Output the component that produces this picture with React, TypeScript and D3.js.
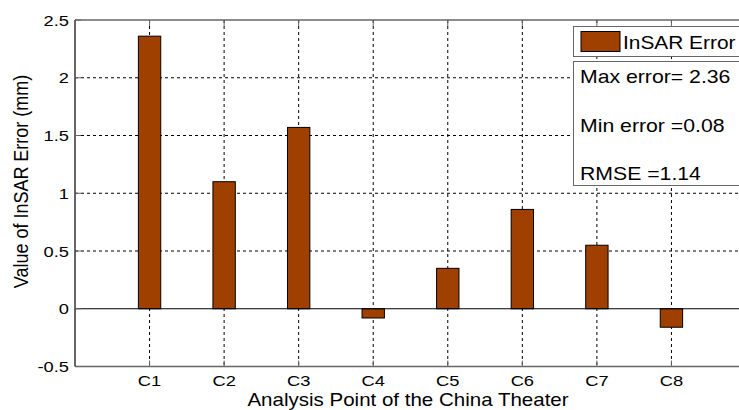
import React from "react";
import * as d3 from "d3";

const categories = ["C1", "C2", "C3", "C4", "C5", "C6", "C7", "C8"];
const values = [2.36, 1.1, 1.57, -0.08, 0.35, 0.86, 0.55, -0.16];
const yTicks = [-0.5, 0, 0.5, 1, 1.5, 2, 2.5];
const statsLines = ["Max error= 2.36", "Min error =0.08", "RMSE =1.14"];
const legendLabel = "InSAR Error";

const W = 739, H = 410;
const left = 75, top = 20, bottom = 366.5, right = 746;
const barColor = "#A04000";
const font = "Arial, 'Liberation Sans', sans-serif";

function SText({ x, y, sx = 1.17, size, anchor = "start", children }: any) {
  return (
    <text transform={`translate(${x},${y}) scale(${sx},1)`} textAnchor={anchor} fontSize={size} fill="#000">
      {children}
    </text>
  );
}

export default function App() {
  const x = d3.scaleLinear().domain([0, categories.length + 1]).range([left, right]);
  const y = d3.scaleLinear().domain([-0.5, 2.5]).range([bottom, top]);
  const bw = (x(1) - x(0)) * 0.3;
  const dash = "3,3";
  return (
    <svg width={W} height={H} style={{ position: "absolute", left: 0, top: 0 }} fontFamily={font}>
      <rect width={W} height={H} fill="#fff" />
      {yTicks.filter(t => t !== 0 && t !== -0.5 && t !== 2.5).map(t => (
        <line key={"gy" + t} x1={left} x2={right} y1={y(t)} y2={y(t)} stroke="#000" strokeWidth={1} strokeDasharray={dash} />
      ))}
      {categories.map((c, i) => (
        <line key={"gx" + c} x1={x(i + 1)} x2={x(i + 1)} y1={top} y2={bottom} stroke="#000" strokeWidth={1} strokeDasharray={dash} />
      ))}
      {values.map((v, i) => (
        <rect key={"b" + i} x={x(i + 1) - bw / 2} width={bw}
          y={Math.min(y(v), y(0))} height={Math.abs(y(v) - y(0))}
          fill={barColor} stroke="#000" strokeWidth={1} />
      ))}
      <line x1={left} x2={right} y1={y(0)} y2={y(0)} stroke="#000" strokeWidth={1} />
      <line x1={left} x2={right} y1={top} y2={top} stroke="#666" strokeWidth={1.5} />
      <line x1={left} x2={right} y1={bottom} y2={bottom} stroke="#666" strokeWidth={1.5} />
      <line x1={left} x2={left} y1={top} y2={bottom} stroke="#000" strokeWidth={1.2} />
      {yTicks.map(t => (
        <g key={"yt" + t}>
          <line x1={left} x2={left + 6} y1={y(t)} y2={y(t)} stroke="#666" />
          <SText x={left - 6} y={y(t) + 5.5} size={15.5} sx={1.18} anchor="end">{t}</SText>
        </g>
      ))}
      {categories.map((c, i) => (
        <g key={"xt" + c}>
          <line x1={x(i + 1)} x2={x(i + 1)} y1={bottom} y2={bottom - 6} stroke="#666" />
          <line x1={x(i + 1)} x2={x(i + 1)} y1={top} y2={top + 6} stroke="#666" />
          <SText x={x(i + 1)} y={386} size={15.5} sx={1.18} anchor="middle">{c}</SText>
        </g>
      ))}
      <SText x={408} y={406} size={18} sx={1.14} anchor="middle">Analysis Point of the China Theater</SText>
      <text transform={`translate(28,181.5) rotate(-90) scale(1,1.15)`} textAnchor="middle" fontSize={18} fill="#000">Value of InSAR Error (mm)</text>
      <rect x={573.5} y={26.5} width={200} height={30} fill="#fff" stroke="#666" strokeWidth={1} />
      <rect x={581} y={31.5} width={39} height={20} fill={barColor} stroke="#000" strokeWidth={1} />
      <SText x={623} y={49.3} size={18} sx={1.16}>{legendLabel}</SText>
      <rect x={573.5} y={61.5} width={200} height={124} fill="#fff" stroke="#666" strokeWidth={1} />
      {statsLines.map((s, i) => (
        <SText key={s} x={580} y={83 + i * 48.5} size={18} sx={1.18}>{s}</SText>
      ))}
    </svg>
  );
}
